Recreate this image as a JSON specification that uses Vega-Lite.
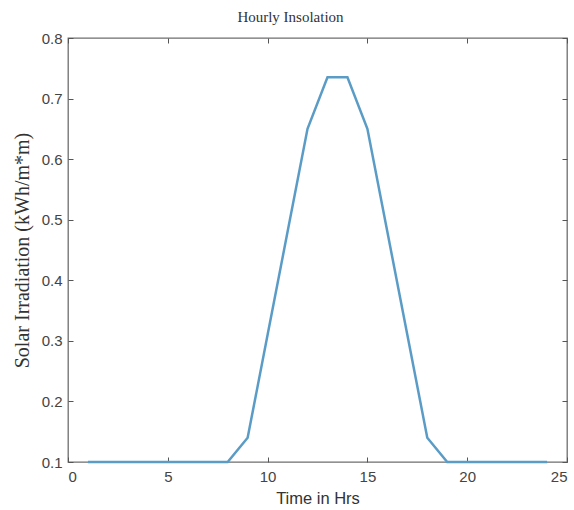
{
  "$schema": "https://vega.github.io/schema/vega-lite/v6.json",
  "width": 499,
  "height": 424,
  "autosize": {"type": "none"},
  "padding": {"left": 68, "top": 38, "right": 7, "bottom": 48},
  "background": "white",
  "title": {"text": "Hourly Insolation", "font": "Liberation Serif", "fontSize": 15, "fontWeight": "normal", "color": "#333", "offset": 6, "dx": -27},
  "data": {"values": [
    {"hour": 1, "irr": 0.1}, {"hour": 2, "irr": 0.1}, {"hour": 3, "irr": 0.1}, {"hour": 4, "irr": 0.1},
    {"hour": 5, "irr": 0.1}, {"hour": 6, "irr": 0.1}, {"hour": 7, "irr": 0.1}, {"hour": 8, "irr": 0.1},
    {"hour": 9, "irr": 0.14}, {"hour": 10, "irr": 0.31}, {"hour": 11, "irr": 0.48}, {"hour": 12, "irr": 0.65},
    {"hour": 13, "irr": 0.735}, {"hour": 14, "irr": 0.735}, {"hour": 15, "irr": 0.65}, {"hour": 16, "irr": 0.48},
    {"hour": 17, "irr": 0.31}, {"hour": 18, "irr": 0.14}, {"hour": 19, "irr": 0.1}, {"hour": 20, "irr": 0.1},
    {"hour": 21, "irr": 0.1}, {"hour": 22, "irr": 0.1}, {"hour": 23, "irr": 0.1}, {"hour": 24, "irr": 0.1}
  ]},
  "config": {
    "view": {"stroke": "#6e6e6e", "strokeWidth": 1.3},
    "axis": {
      "grid": false, "domain": false, "tickColor": "#555", "tickSize": -5, "tickWidth": 1,
      "labelFont": "Liberation Sans", "labelFontSize": 15, "labelColor": "#444",
      "titleFontWeight": "normal", "titleColor": "#333"
    }
  },
  "layer": [
    {
      "mark": {"type": "line", "color": "#5b9cc6", "strokeWidth": 2.5},
      "encoding": {
        "x": {"field": "hour", "type": "quantitative", "scale": {"domain": [0, 25], "nice": false},
          "axis": {"values": [0, 5, 10, 15, 20, 25], "title": "Time in Hrs", "titleFont": "Liberation Sans", "titleFontSize": 16.5, "labelPadding": 12, "titlePadding": 6}},
        "y": {"field": "irr", "type": "quantitative", "scale": {"domain": [0.1, 0.8], "nice": false, "zero": false},
          "axis": {"values": [0.1, 0.2, 0.3, 0.4, 0.5, 0.6, 0.7, 0.8], "format": ".1f", "title": "Solar Irradiation (kWh/m*m)", "titleFont": "Liberation Serif", "titleFontSize": 20, "labelPadding": 11, "titlePadding": 9}}
      }
    },
    {
      "mark": {"type": "line", "opacity": 0},
      "encoding": {
        "x": {"field": "hour", "type": "quantitative", "scale": {"domain": [0, 25], "nice": false},
          "axis": {"orient": "top", "values": [0, 5, 10, 15, 20, 25], "labels": false, "title": null}},
        "y": {"field": "irr", "type": "quantitative", "scale": {"domain": [0.1, 0.8], "nice": false, "zero": false},
          "axis": {"orient": "right", "values": [0.1, 0.2, 0.3, 0.4, 0.5, 0.6, 0.7, 0.8], "labels": false, "title": null}}
      }
    }
  ],
  "resolve": {"axis": {"x": "independent", "y": "independent"}}
}
